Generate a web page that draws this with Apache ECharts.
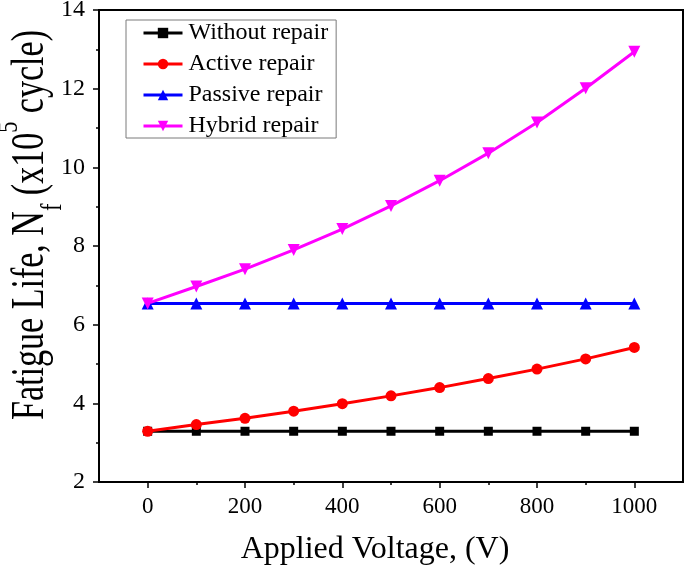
<!DOCTYPE html>
<html>
<head>
<meta charset="utf-8">
<script src="https://cdn.jsdelivr.net/npm/echarts@6/dist/echarts.min.js"></script>
<style>
html,body{margin:0;padding:0;background:#fff;}
#chart{width:685px;height:566px;}
</style>
</head>
<body>
<div id="chart"></div>
<script>
var voltage = [0, 100, 200, 300, 400, 500, 600, 700, 800, 900, 1000];
var withoutRepair = [3.29, 3.29, 3.29, 3.29, 3.29, 3.29, 3.29, 3.29, 3.29, 3.29, 3.29];
var activeRepair = [3.29, 3.46, 3.62, 3.80, 3.99, 4.19, 4.40, 4.63, 4.87, 5.13, 5.42];
var passiveRepair = [6.54, 6.54, 6.54, 6.54, 6.54, 6.54, 6.54, 6.54, 6.54, 6.54, 6.54];
var hybridRepair = [6.54, 6.97, 7.41, 7.90, 8.43, 9.02, 9.66, 10.36, 11.14, 12.01, 12.94];
var xMajorTicks = [0, 200, 400, 600, 800, 1000];
var xMinorTicks = [100, 300, 500, 700, 900];
var seriesNames = ['Without repair', 'Active repair', 'Passive repair', 'Hybrid repair'];
var xTitle = 'Applied Voltage, (V)';
var yTitleParts = ['Fatigue Life, N', 'f', ' (x10', '5', ' cycle)'];

function pairs(vals) { return voltage.map(function (v, i) { return [v, vals[i]]; }); }

var FONT = '"Liberation Serif", "Times New Roman", serif';
var chart = echarts.init(document.getElementById('chart'), null, {renderer: 'canvas'});

function mkSeries(name, data, color, symbol, size, rotate) {
  return {
    name: name, type: 'line', data: pairs(data), xAxisIndex: 0, yAxisIndex: 0,
    symbol: symbol, symbolSize: size, symbolRotate: rotate || 0,
    showAllSymbol: true,
    lineStyle: {color: color, width: 3},
    itemStyle: {color: color, borderWidth: 0},
    emphasis: {disabled: true}, animation: false, z: 3
  };
}

var yTitleText = '{a|' + yTitleParts[0] + '}{sub|' + yTitleParts[1] + '}{a|' + yTitleParts[2] +
  '}{sup|' + yTitleParts[3] + '}{a|' + yTitleParts[4] + '}';

chart.setOption({
  animation: false,
  backgroundColor: '#fff',
  textStyle: {fontFamily: FONT},
  grid: {left: 99, right: 2, top: 10, bottom: 84, show: true, borderColor: '#000', borderWidth: 2,
         containLabel: false, outerBoundsMode: 'none'},
  legend: {
    orient: 'vertical', left: 126, top: 20,
    data: seriesNames,
    itemWidth: 39, itemHeight: 13, itemGap: 7,
    padding: [1, 8, 0, 16],
    borderColor: '#7a7a7a', borderWidth: 1,
    backgroundColor: '#fff',
    lineStyle: {width: 3},
    textStyle: {fontFamily: FONT, fontSize: 24, color: '#000', padding: [0, 0, 0, 1]},
    selectedMode: false
  },
  graphic: [{
    type: 'text', x: 31, y: 225, rotation: Math.PI / 2, scaleX: 0.74, scaleY: 1, silent: true,
    style: {
      text: yTitleText, align: 'center', verticalAlign: 'middle', fill: '#000',
      rich: {
        a: {fontFamily: FONT, fontSize: 46, fill: '#000', lineHeight: 74},
        sub: {fontFamily: FONT, fontSize: 30, fill: '#000', verticalAlign: 'bottom', lineHeight: 42},
        sup: {fontFamily: FONT, fontSize: 30, fill: '#000', verticalAlign: 'top', lineHeight: 30}
      }
    }
  }],
  xAxis: [{
    type: 'value', min: -100, max: 1100, interval: 100, position: 'bottom',
    name: xTitle, nameLocation: 'middle', nameGap: 52,
    nameTextStyle: {fontFamily: FONT, fontSize: 32, color: '#000', padding: [0, 32, 0, 0]},
    axisLine: {show: true, onZero: false, lineStyle: {color: '#000', width: 2}},
    axisTick: {show: true, inside: false, length: 6, customValues: xMajorTicks, lineStyle: {color: '#000', width: 1.5}},
    axisLabel: {show: true, margin: 13, customValues: xMajorTicks, fontFamily: FONT, fontSize: 23, color: '#000',
                formatter: function (v) { return String(v); }},
    splitLine: {show: false}
  }, {
    type: 'value', min: -100, max: 1100, interval: 100, position: 'bottom',
    axisLine: {show: false, onZero: false},
    axisTick: {show: true, inside: false, length: 3, customValues: xMinorTicks, lineStyle: {color: '#000', width: 1.5}},
    axisLabel: {show: false},
    splitLine: {show: false}
  }],
  yAxis: [{
    type: 'value', min: 2, max: 14, interval: 2,
    axisLine: {show: true, onZero: false, lineStyle: {color: '#000', width: 2}},
    axisTick: {show: true, inside: false, length: 6, lineStyle: {color: '#000', width: 1.5}},
    minorTick: {show: true, splitNumber: 2, length: 3, lineStyle: {color: '#000', width: 1.5}},
    axisLabel: {show: true, margin: 14, fontFamily: FONT, fontSize: 24, color: '#000'},
    splitLine: {show: false}
  }],
  series: [
    mkSeries(seriesNames[0], withoutRepair, '#000000', 'rect', 9),
    mkSeries(seriesNames[1], activeRepair, '#ff0000', 'circle', 11),
    mkSeries(seriesNames[2], passiveRepair, '#0000ff', 'triangle', 12),
    mkSeries(seriesNames[3], hybridRepair, '#ff00ff', 'triangle', 12, 180)
  ]
});
</script>
</body>
</html>
